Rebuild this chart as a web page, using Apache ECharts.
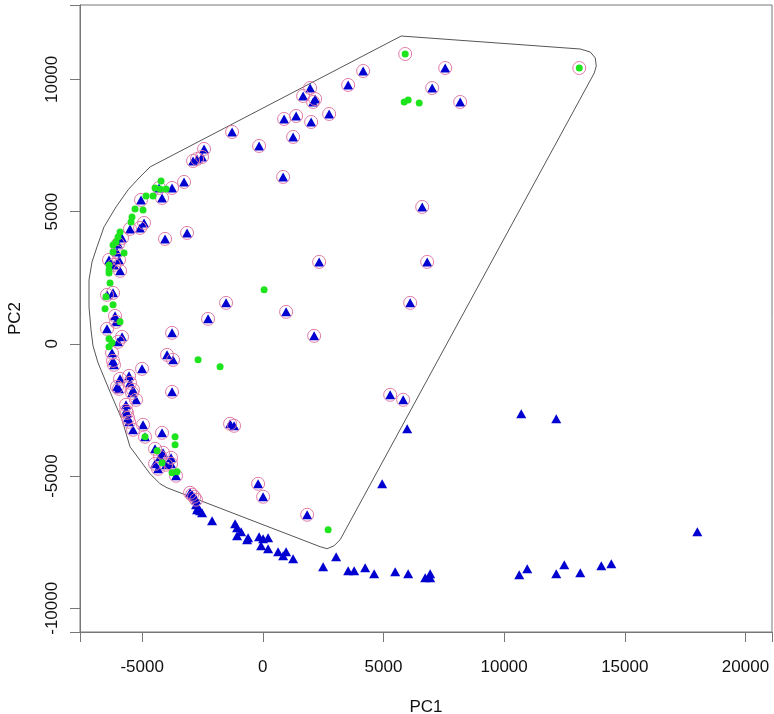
<!DOCTYPE html>
<html>
<head>
<meta charset="utf-8">
<script src="https://cdn.jsdelivr.net/npm/echarts@6/dist/echarts.min.js"></script>
<style>
  html, body { margin: 0; padding: 0; background: #fff; }
  #pca { width: 774px; height: 714px; }
</style>
</head>
<body>
<div id="pca"></div>
<script>
// PC1 / PC2 scores

// blue triangles only (outside the hull)
var plainTriangles = [
  [-2765, -6084], [-2682, -6198], [-2600, -6311], [-2517, -6387], [-2724, -6273],
  [-2102, -6689], [-1148, -6802], [-1066, -6953], [-900, -7105], [-1066, -7256],
  [-609, -7331], [-651, -7407], [-153, -7293], [12, -7369], [220, -7331],
  [-70, -7634], [220, -7747], [634, -7860], [966, -7860], [842, -8011],
  [1256, -8125], [2500, -8427], [3039, -8049], [3537, -8578], [3785, -8578],
  [4241, -8465], [4614, -8692], [5485, -8616], [6024, -8692], [6729, -8843],
  [6936, -8692], [6936, -8843], [10626, -8729], [10958, -8503], [12160, -8692],
  [12492, -8352], [13155, -8654], [14026, -8389], [14441, -8314], [18006, -7105],
  [10709, -2645], [12160, -2834], [4946, -5291], [5983, -3212]
];

// blue triangles with a ring round them
var ringedTriangles = [
  [7558, 10430], [7019, 9674], [8180, 9145], [4158, 10317], [3537, 9788],
  [1961, 9674], [1671, 9372], [2168, 9259], [2085, 9145], [2749, 8692],
  [1381, 8616], [883, 8503], [2003, 8389], [1256, 7823], [-1273, 8011],
  [-153, 7482], [-2434, 7369], [-2517, 7067], [-2890, 6916], [-2724, 6991],
  [842, 6311], [-3263, 6122], [-3760, 5895], [-4175, 5517], [-4299, 5895],
  [-5046, 5442], [-4921, 4573], [-5087, 4384], [-5502, 4346], [-3138, 4195],
  [-4051, 3968], [-5833, 4006], [-5999, 3779], [-6041, 3477], [-6372, 3174],
  [-5958, 3174], [-6165, 2985], [-5916, 2759], [-6206, 1927], [-6455, 1852],
  [-1522, 1549], [-2268, 945], [-6124, 1058], [-6082, 831], [-6455, 567],
  [-3760, 416], [-5833, 265], [-5999, 76], [-6248, -340], [-3968, -416],
  [-3719, -605], [-6206, -642], [-6165, -794], [-5004, -945], [-5543, -1209],
  [-5916, -1323], [-5502, -1474], [-6041, -1625], [-5958, -1701], [-5377, -1738],
  [-5419, -1852], [-3760, -1814], [-5253, -2116], [-5668, -2305], [-5668, -2532],
  [-5626, -2608], [-5585, -2796], [-5543, -2948], [-4963, -3061], [-5377, -3250],
  [-1356, -3023], [-1190, -3099], [-4175, -3363], [-4880, -3514], [-4465, -3968],
  [-4134, -4119], [-4258, -4270], [-3802, -4308], [-4465, -4535], [-4009, -4573],
  [-3802, -4535], [-4341, -4724], [-3595, -4988], [-3014, -5631], [-2931, -5706],
  [-2848, -5782], [-2765, -5895], [-195, -5291], [12, -5782], [1837, -6462],
  [6605, 5177], [2334, 3099], [6812, 3099], [966, 1209], [6107, 1549],
  [2127, 302], [5278, -1927], [5817, -2116]
];

// rings sitting on green dots only
var ringsOnGreen = [[5900, 10959], [13114, 10430]];

// green dots
var greenDots = [
  [5900, 10959], [13114, 10430], [5858, 9145], [6024, 9221], [6480, 9107],
  [-4216, 6160], [-4465, 5895], [-4258, 5857], [-4009, 5857], [-4838, 5593],
  [-4548, 5593], [-5294, 5102], [-4963, 5064], [-5419, 4799], [-5460, 4610],
  [-5916, 4232], [-5999, 4044], [-6082, 3855], [-6206, 3741], [-6206, 3477],
  [-5750, 3439], [-6372, 2985], [-6372, 2796], [-6372, 2683], [-6331, 2305],
  [-6497, 1776], [-6206, 1474], [-6538, 1323], [-5916, 831], [-6372, 189],
  [-6248, 38], [-6372, -113], [-2682, -605], [-1770, -869], [54, 2041],
  [-4880, -3514], [-3636, -3514], [-3636, -3817], [-4382, -4044], [-4175, -4497],
  [-3760, -4875], [-3553, -4837], [2707, -7029]
];

// outline drawn round the ringed group
var hullPath = [
  [5734, 11639], [13155, 11148], [13570, 11035], [13777, 10808], [13819, 10506],
  [13736, 10241], [3205, -7407], [2956, -7634], [2666, -7747], [2376, -7671],
  [-3968, -5442], [-4258, -5291], [-4672, -4913], [-5502, -3892], [-5833, -2872],
  [-6331, -1814], [-6828, -718], [-7036, -76], [-7119, 529], [-7202, 1398],
  [-7202, 2419], [-7077, 3099], [-6870, 3666], [-6580, 4421], [-6082, 5177],
  [-5585, 5820], [-5129, 6273], [-4672, 6689], [5734, 11639]
];

var xTicks = [-5000, 0, 5000, 10000, 15000, 20000];
var yTicks = [-10000, -5000, 0, 5000, 10000];

var myChart = echarts.init(document.getElementById('pca'));

var labelFont = {
  fontFamily: 'Liberation Sans, Arial, sans-serif',
  fontSize: 17,
  color: '#111'
};

function plainNumber(v) {
  return String(v);
}

var option = {
  animation: false,
  grid: {
    left: 80,
    right: 2,
    top: 5,
    bottom: 82,
    outerBoundsMode: 'none',
    containLabel: false,
    show: true,
    borderColor: '#777',
    borderWidth: 1
  },
  xAxis: {
    type: 'value',
    position: 'bottom',
    min: -7575,
    max: 21100,
    splitNumber: 5,
    name: 'PC1',
    nameLocation: 'middle',
    nameGap: 67,
    nameTextStyle: labelFont,
    axisLine: { show: true, onZero: false, lineStyle: { color: '#777' } },
    splitLine: { show: false },
    axisTick: {
      show: true,
      length: 10,
      lineStyle: { color: '#777', width: 1 }
    },
    axisLabel: Object.assign({
      customValues: xTicks,
      formatter: plainNumber,
      margin: 27
    }, labelFont)
  },
  yAxis: {
    type: 'value',
    position: 'left',
    min: -10896,
    max: 12812,
    splitNumber: 5,
    name: 'PC2',
    nameLocation: 'middle',
    nameRotate: 90,
    nameGap: 56,
    nameTextStyle: labelFont,
    axisLine: { show: true, onZero: false, lineStyle: { color: '#777' } },
    splitLine: { show: false },
    axisTick: {
      show: true,
      length: 10,
      lineStyle: { color: '#777', width: 1 }
    },
    axisLabel: Object.assign({
      customValues: yTicks,
      formatter: plainNumber,
      rotate: 90,
      margin: 19
    }, labelFont)
  },
  series: [
    {
      name: 'hull',
      type: 'line',
      data: hullPath,
      symbol: 'none',
      smooth: false,
      lineStyle: { color: '#555', width: 1 },
      z: 1
    },
    {
      name: 'triangles',
      type: 'scatter',
      data: plainTriangles.concat(ringedTriangles),
      symbol: 'triangle',
      symbolSize: [10, 9],
      itemStyle: { color: '#0000d0', opacity: 1 },
      z: 2
    },
    {
      name: 'rings',
      type: 'scatter',
      data: ringedTriangles.concat(ringsOnGreen),
      symbol: 'circle',
      symbolSize: 13,
      itemStyle: {
        color: 'rgba(0,0,0,0)',
        borderColor: '#e07aa8',
        borderWidth: 1,
        opacity: 1
      },
      z: 3
    },
    {
      name: 'green',
      type: 'scatter',
      data: greenDots,
      symbol: 'circle',
      symbolSize: 7,
      itemStyle: { color: '#1ee41e', opacity: 1 },
      z: 4
    }
  ]
};

myChart.setOption(option);
</script>
</body>
</html>
